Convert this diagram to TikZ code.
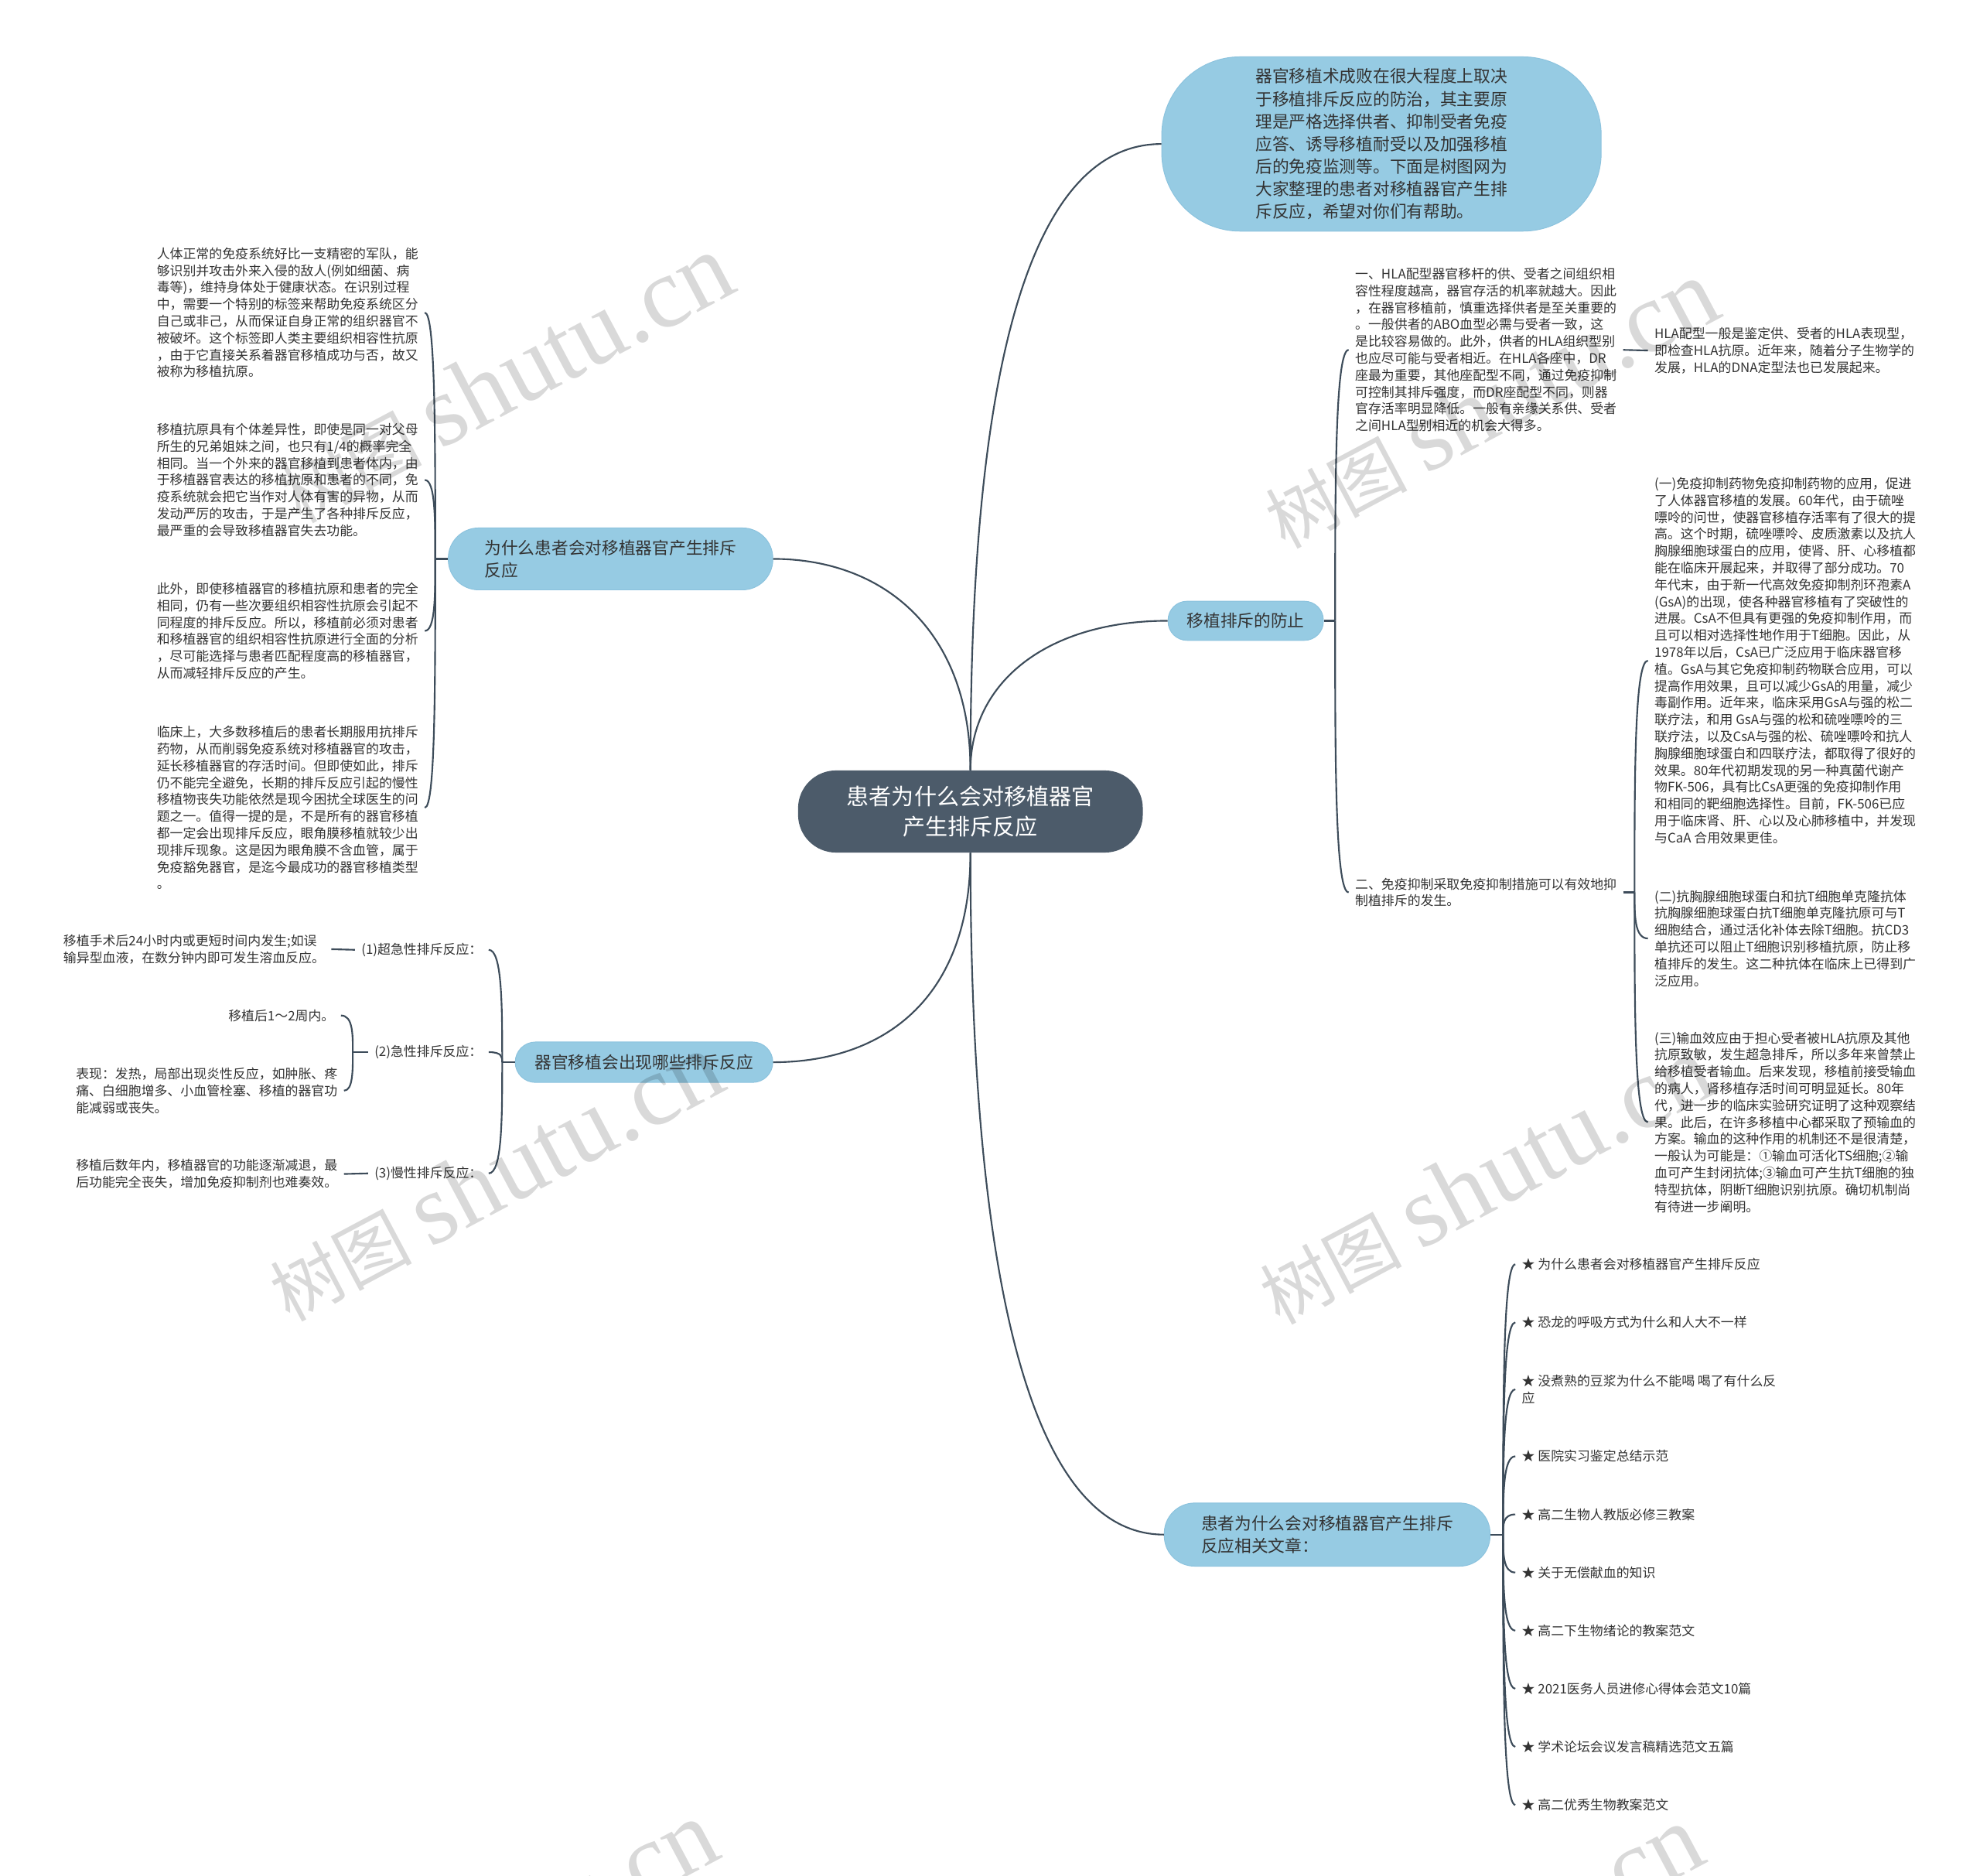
\documentclass[tikz,border=0pt]{standalone}
\usepackage{fontspec}
\setmainfont{Noto Sans CJK SC}
\newfontfamily\wmlatin{Liberation Serif}
\usetikzlibrary{calc}
\definecolor{hub}{RGB}{76,91,106}
\definecolor{pill}{RGB}{150,203,227}
\definecolor{pilledge}{RGB}{140,195,222}
\definecolor{wire}{RGB}{61,76,90}
\definecolor{ink}{RGB}{51,51,51}
\begin{document}
\begin{tikzpicture}[x=1pt,y=-1pt,
 link/.style={draw=wire,line width=1.3pt},
 hubnode/.style={fill=hub,text=white,minimum width=273pt,minimum height=65pt,rounded corners=30pt,align=center,inner sep=0pt,font=\fontsize{17.8}{24}\selectfont},
 pillnode/.style={fill=pill,draw=pilledge,line width=0.6pt,text=ink,align=left,inner sep=0pt,font=\fontsize{13.3}{17.8}\selectfont},
 leaf/.style={inner xsep=5pt,inner ysep=2pt,align=left,text=ink,font=\fontsize{10.35}{13.35}\selectfont},
 wmark/.style={text=black,opacity=0.15,rotate=28,inner sep=0pt},
 bra/.style={to path={.. controls ($(\tikztostart)!0.5!(\tikztostart|-\tikztotarget)$) and (\tikztostart|-\tikztotarget) .. (\tikztotarget)}}
]
\useasboundingbox (0,0) rectangle (1568,1485);
\fill[white] (0,0) rectangle (1568,1485);

% ---------- main nodes
\node[hubnode] (C) at (768.5,642.5) {患者为什么会对移植器官\\产生排斥反应};
\node[pillnode,minimum width=348pt,minimum height=138pt,rounded corners=62pt] (T) at (1094,114)
 {器官移植术成败在很大程度上取决\\于移植排斥反应的防治，其主要原\\理是严格选择供者、抑制受者免疫\\应答、诱导移植耐受以及加强移植\\后的免疫监测等。下面是树图网为\\大家整理的患者对移植器官产生排\\斥反应，希望对你们有帮助。};
\node[pillnode,minimum width=257pt,minimum height=49pt,rounded corners=24pt] (B1) at (483.5,442.5) {为什么患者会对移植器官产生排斥\\反应};
\node[pillnode,minimum width=204pt,minimum height=32pt,rounded corners=16pt] (B2) at (510,841) {器官移植会出现哪些排斥反应};
\node[pillnode,minimum width=123pt,minimum height=31pt,rounded corners=15pt] (B3) at (986.5,491.5) {移植排斥的防止};
\node[pillnode,minimum width=258pt,minimum height=50pt,rounded corners=24pt] (B4) at (1051,1215) {患者为什么会对移植器官产生排斥\\反应相关文章：};

% ---------- left branch 1 children
\node[leaf,anchor=west] (L1) at (119,247.5) {人体正常的免疫系统好比一支精密的军队，能\\够识别并攻击外来入侵的敌人(例如细菌、病\\毒等)，维持身体处于健康状态。在识别过程\\中，需要一个特别的标签来帮助免疫系统区分\\自己或非己，从而保证自身正常的组织器官不\\被破坏。这个标签即人类主要组织相容性抗原\\，由于它直接关系着器官移植成功与否，故又\\被称为移植抗原。};
\node[leaf,anchor=west] (L2) at (119,380) {移植抗原具有个体差异性，即使是同一对父母\\所生的兄弟姐妹之间，也只有1/4的概率完全\\相同。当一个外来的器官移植到患者体内，由\\于移植器官表达的移植抗原和患者的不同，免\\疫系统就会把它当作对人体有害的异物，从而\\发动严厉的攻击，于是产生了各种排斥反应，\\最严重的会导致移植器官失去功能。};
\node[leaf,anchor=west] (L3) at (119,499.5) {此外，即使移植器官的移植抗原和患者的完全\\相同，仍有一些次要组织相容性抗原会引起不\\同程度的排斥反应。所以，移植前必须对患者\\和移植器官的组织相容性抗原进行全面的分析\\，尽可能选择与患者匹配程度高的移植器官，\\从而减轻排斥反应的产生。};
\node[leaf,anchor=west] (L4) at (119,639.5) {临床上，大多数移植后的患者长期服用抗排斥\\药物，从而削弱免疫系统对移植器官的攻击，\\延长移植器官的存活时间。但即使如此，排斥\\仍不能完全避免，长期的排斥反应引起的慢性\\移植物丧失功能依然是现今困扰全球医生的问\\题之一。值得一提的是，不是所有的器官移植\\都一定会出现排斥反应，眼角膜移植就较少出\\现排斥现象。这是因为眼角膜不含血管，属于\\免疫豁免器官，是迄今最成功的器官移植类型\\。};

% ---------- left branch 2 children
\node[leaf,anchor=east] (K1) at (387,752) {(1)超急性排斥反应：};
\node[leaf,anchor=east] (K2) at (387,833) {(2)急性排斥反应：};
\node[leaf,anchor=east] (K3) at (387,929) {(3)慢性排斥反应：};
\node[leaf,anchor=west] (K1a) at (45,751.5) {移植手术后24小时内或更短时间内发生;如误\\输异型血液，在数分钟内即可发生溶血反应。};
\node[leaf,anchor=east] (K2a) at (270,804) {移植后1～2周内。};
\node[leaf,anchor=west] (K2b) at (55,863.5) {表现：发热，局部出现炎性反应，如肿胀、疼\\痛、白细胞增多、小血管栓塞、移植的器官功\\能减弱或丧失。};
\node[leaf,anchor=west] (K3a) at (55,929.5) {移植后数年内，移植器官的功能逐渐减退，最\\后功能完全丧失，增加免疫抑制剂也难奏效。};

% ---------- right branch 3 children
\node[leaf,anchor=west] (RA) at (1068,277) {一、HLA配型器官移杆的供、受者之间组织相\\容性程度越高，器官存活的机率就越大。因此\\，在器官移植前，慎重选择供者是至关重要的\\。一般供者的ABO血型必需与受者一致，这\\是比较容易做的。此外，供者的HLA组织型别\\也应尽可能与受者相近。在HLA各座中，DR\\座最为重要，其他座配型不同，通过免疫抑制\\可控制其排斥强度，而DR座配型不同，则器\\官存活率明显降低。一般有亲缘关系供、受者\\之间HLA型别相近的机会大得多。};
\node[leaf,anchor=west] (RA1) at (1305,277.5) {HLA配型一般是鉴定供、受者的HLA表现型，\\即检查HLA抗原。近年来，随着分子生物学的\\发展，HLA的DNA定型法也已发展起来。};
\node[leaf,anchor=west] (RB) at (1068,706.5) {二、免疫抑制采取免疫抑制措施可以有效地抑\\制植排斥的发生。};
\node[leaf,anchor=west] (RB1) at (1305,523) {(一)免疫抑制药物免疫抑制药物的应用，促进\\了人体器官移植的发展。60年代，由于硫唑\\嘌呤的问世，使器官移植存活率有了很大的提\\高。这个时期，硫唑嘌呤、皮质激素以及抗人\\胸腺细胞球蛋白的应用，使肾、肝、心移植都\\能在临床开展起来，并取得了部分成功。70\\年代末，由于新一代高效免疫抑制剂环孢素A\\(GsA)的出现，使各种器官移植有了突破性的\\进展。CsA不但具有更强的免疫抑制作用，而\\且可以相对选择性地作用于T细胞。因此，从\\1978年以后，CsA已广泛应用于临床器官移\\植。GsA与其它免疫抑制药物联合应用，可以\\提高作用效果，且可以减少GsA的用量，减少\\毒副作用。近年来，临床采用GsA与强的松二\\联疗法，和用 GsA与强的松和硫唑嘌呤的三\\联疗法，以及CsA与强的松、硫唑嘌呤和抗人\\胸腺细胞球蛋白和四联疗法，都取得了很好的\\效果。80年代初期发现的另一种真菌代谢产\\物FK-506，具有比CsA更强的免疫抑制作用\\和相同的靶细胞选择性。目前，FK-506已应\\用于临床肾、肝、心以及心肺移植中，并发现\\与CaA 合用效果更佳。};
\node[leaf,anchor=west] (RB2) at (1305,743) {(二)抗胸腺细胞球蛋白和抗T细胞单克隆抗体\\抗胸腺细胞球蛋白抗T细胞单克隆抗原可与T\\细胞结合，通过活化补体去除T细胞。抗CD3\\单抗还可以阻止T细胞识别移植抗原，防止移\\植排斥的发生。这二种抗体在临床上已得到广\\泛应用。};
\node[leaf,anchor=west] (RB3) at (1305,888.5) {(三)输血效应由于担心受者被HLA抗原及其他\\抗原致敏，发生超急排斥，所以多年来曾禁止\\给移植受者输血。后来发现，移植前接受输血\\的病人，肾移植存活时间可明显延长。80年\\代，进一步的临床实验研究证明了这种观察结\\果。此后，在许多移植中心都采取了预输血的\\方案。输血的这种作用的机制还不是很清楚，\\一般认为可能是：①输血可活化TS细胞;②输\\血可产生封闭抗体;③输血可产生抗T细胞的独\\特型抗体，阴断T细胞识别抗原。确切机制尚\\有待进一步阐明。};

% ---------- related articles
\node[leaf,anchor=west] (A1) at (1200,1001) {★ 为什么患者会对移植器官产生排斥反应};
\node[leaf,anchor=west] (A2) at (1200,1047) {★ 恐龙的呼吸方式为什么和人大不一样};
\node[leaf,anchor=west] (A3) at (1200,1100) {★ 没煮熟的豆浆为什么不能喝 喝了有什么反\\应};
\node[leaf,anchor=west] (A4) at (1200,1153) {★ 医院实习鉴定总结示范};
\node[leaf,anchor=west] (A5) at (1200,1199) {★ 高二生物人教版必修三教案};
\node[leaf,anchor=west] (A6) at (1200,1245) {★ 关于无偿献血的知识};
\node[leaf,anchor=west] (A7) at (1200,1291) {★ 高二下生物绪论的教案范文};
\node[leaf,anchor=west] (A8) at (1200,1337) {★ 2021医务人员进修心得体会范文10篇};
\node[leaf,anchor=west] (A9) at (1200,1383) {★ 学术论坛会议发言稿精选范文五篇};
\node[leaf,anchor=west] (A10) at (1200,1429) {★ 高二优秀生物教案范文};

% ---------- junctions
\coordinate (J1) at ($(B1.west)+(-10,0)$);
\coordinate (J2) at ($(B2.west)+(-10,0)$);
\coordinate (J3) at ($(B3.east)+(9,0)$);
\coordinate (J4) at ($(B4.east)+(10,0)$);
\coordinate (JK2) at ($(K2.west)+(-12,0)$);
\coordinate (JRB) at ($(RB.east)+(9,0)$);

% ---------- hub connectors
\draw[link] (C.north) .. controls +(0,-210) and +(-132,0) .. (T.west);
\draw[link] (C.north) .. controls +(0,-110) and +(88,0) .. (B1.east);
\draw[link] (C.north) .. controls +(0,-70) and +(-95,0) .. (B3.west);
\draw[link] (C.south) .. controls +(0,115) and +(88,0) .. (B2.east);
\draw[link] (C.south) .. controls +(0,225) and +(-132,0) .. (B4.west);

% ---------- branch connectors
\draw[link] (B1.west) -- (J1);
\foreach \n in {L1,L2,L3,L4} \draw[link] (J1) to[bra] (\n.east);
\draw[link] (B2.west) -- (J2);
\foreach \n in {K1,K2,K3} \draw[link] (J2) to[bra] (\n.east);
\draw[link] (K1a.east) -- (K1.west);
\draw[link] (K2.west) -- (JK2);
\foreach \n in {K2a,K2b} \draw[link] (JK2) to[bra] (\n.east);
\draw[link] (K3a.east) -- (K3.west);
\draw[link] (B3.east) -- (J3);
\foreach \n in {RA,RB} \draw[link] (J3) to[bra] (\n.west);
\draw[link] (RA.east) -- (RA1.west);
\draw[link] (RB.east) -- (JRB);
\foreach \n in {RB1,RB2,RB3} \draw[link] (JRB) to[bra] (\n.west);
\draw[link] (B4.east) -- (J4);
\foreach \n in {A1,A2,A3,A4,A5,A6,A7,A8,A9,A10} \draw[link] (J4) to[bra] (\n.west);

% ---------- watermarks
\foreach \wx/\wy [count=\i] in {400/300,1180/320,392/932,1176/934,388/1540,1168/1544}
  \node[wmark] (W\i) at (\wx,\wy) {{\fontsize{56}{56}\selectfont 树图}\hspace{14pt}{\wmlatin\fontsize{80}{80}\selectfont shutu.cn}};
\end{tikzpicture}
\end{document}
